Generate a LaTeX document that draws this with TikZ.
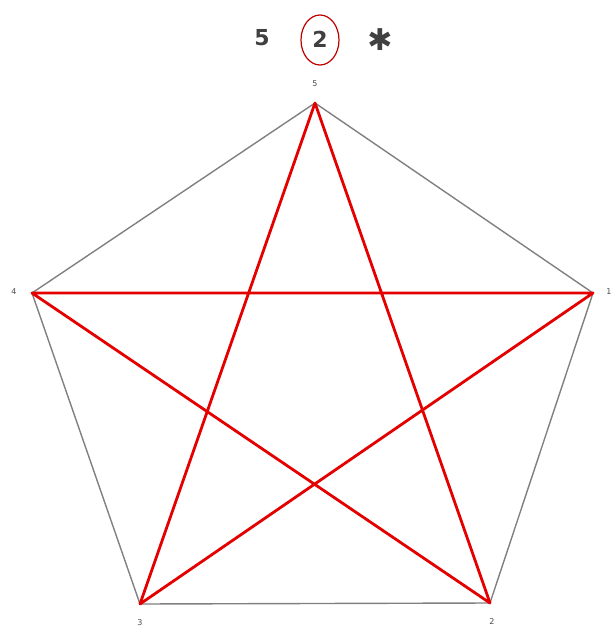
\documentclass[tikz,border=0pt]{standalone}
\usepackage{fontspec}
\setmainfont{DejaVu Sans}
\begin{document}
\begin{tikzpicture}[x=1pt,y=-1pt,
  side/.style={draw=gray, line width=1.4pt},
  starline/.style={draw=red!90!black, line width=2.8pt},
  vlabel/.style={text=black!70, font=\fontsize{8}{9}\selectfont, inner sep=0pt},
  title/.style={text=black!75, font=\fontsize{22}{24}\selectfont\bfseries, inner sep=0pt}]
\useasboundingbox (0,0) rectangle (615,635);
\coordinate (v5) at (315,103);
\coordinate (v4) at (32,293);
\coordinate (v1) at (593,293);
\coordinate (v3) at (140,604);
\coordinate (v2) at (490,603);
\draw[side] (v5) -- (v1) -- (v2) -- (v3) -- (v4) -- cycle;
\draw[starline, line join=round] (v5) -- (v2) -- (v4) -- (v1) -- (v3) -- cycle;
\node[vlabel] (l5) at (315,84) {5};
\node[vlabel] (l4) at (14,292) {4};
\node[vlabel] (l1) at (609,292) {1};
\node[vlabel] (l3) at (140,623) {3};
\node[vlabel] (l2) at (492,622) {2};
\node[title] (t5) at (262,38) {5};
\node[title] (t2) at (320,39) {2};
\draw[draw=red!75!black, line width=1.2pt] (320,40) ellipse [x radius=19, y radius=25];
\node[title, font=\fontsize{30}{32}\selectfont\bfseries] (ts) at (380,40) {✱};
\end{tikzpicture}
\end{document}
